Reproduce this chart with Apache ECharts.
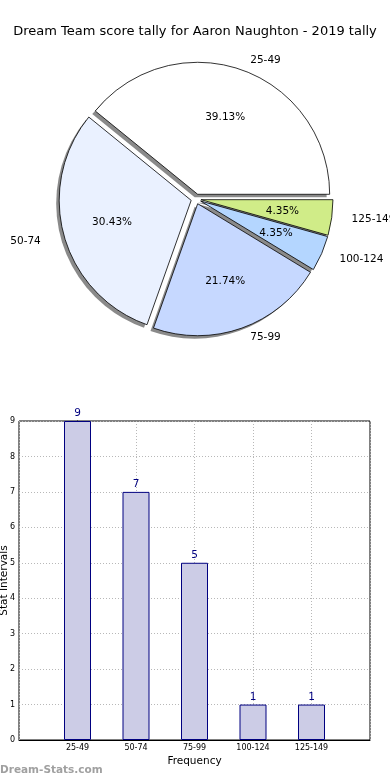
<!DOCTYPE html>
<html>
<head>
<meta charset="utf-8">
<script src="https://cdn.jsdelivr.net/npm/echarts@6/dist/echarts.min.js"></script>
<style>
html,body{margin:0;padding:0;background:#fff;}
#c{width:390px;height:780px;}
</style>
</head>
<body>
<div id="c"></div>
<script>
const titleText = 'Dream Team score tally for Aaron Naughton - 2019 tally';
const categories = ['25-49', '50-74', '75-99', '100-124', '125-149'];
const counts = [9, 7, 5, 1, 1];
const sliceColors = ['#ffffff', '#eaf1ff', '#c6d8ff', '#b4d6ff', '#d0ec88'];
const yTicks = [0, 1, 2, 3, 4, 5, 6, 7, 8, 9];

const FONT = 'DejaVu Sans';
const R = 132;
const cx = 196, cy = 199;
// label distance from the rim (styling only; mimics the reference's wider-than-tall pie)
const labelGap = [10, 19, 10, 14, 15];

const pieData = categories.map((c, i) => ({
  name: c, value: counts[i], selected: true,
  itemStyle: { color: sliceColors[i] },
  labelLine: { show: false, length: labelGap[i], length2: 0 }
}));
const plainData = categories.map((c, i) => ({
  name: c, value: counts[i], selected: true
}));

const pieCommon = {
  type: 'pie', startAngle: 0, clockwise: false,
  selectedMode: 'multiple', selectedOffset: 5,
  avoidLabelOverlap: false, silent: true,
  emphasis: { disabled: true },
  labelLine: { show: false }
};

const chart = echarts.init(document.getElementById('c'), null, { renderer: 'canvas' });
chart.setOption({
  animation: false,
  backgroundColor: '#fff',
  title: {
    text: titleText, left: 'center', top: 20,
    textStyle: { fontFamily: FONT, fontSize: 13, fontWeight: 'normal', color: '#000' }
  },
  grid: {
    left: 19, right: 20, top: 421, bottom: 40,
    outerBoundsMode: 'none', containLabel: false,
    show: true, borderColor: '#000', borderWidth: 1, backgroundColor: 'transparent'
  },
  xAxis: {
    type: 'value', min: -1, max: 5, interval: 1,
    name: 'Frequency', nameLocation: 'middle', nameGap: 16, nameMoveOverlap: false,
    nameTextStyle: { fontFamily: FONT, fontSize: 10.5, color: '#000' },
    axisLine: { show: true, lineStyle: { color: '#000' } },
    axisTick: { show: false },
    axisLabel: {
      fontFamily: FONT, fontSize: 8, color: '#000', margin: 4,
      formatter: v => categories[v] || ''
    },
    splitLine: { show: true, lineStyle: { color: '#b8b8b8', type: [1, 2], width: 1 } }
  },
  yAxis: {
    type: 'value', min: 0, max: 9, interval: 1,
    name: 'Stat Intervals', nameLocation: 'middle', nameGap: 9, nameMoveOverlap: false,
    nameTextStyle: { fontFamily: FONT, fontSize: 10.5, color: '#000' },
    axisLine: { show: true, lineStyle: { color: '#000' } },
    axisTick: { show: true, inside: true, length: 3, lineStyle: { color: '#000' } },
    axisLabel: {
      fontFamily: FONT, fontSize: 8, color: '#000', margin: 4,
      formatter: v => (yTicks.indexOf(v) >= 0 ? String(v) : '')
    },
    splitLine: { show: true, lineStyle: { color: '#b8b8b8', type: [1, 2], width: 1 } }
  },
  graphic: [{
    type: 'text', left: 0, top: 765,
    style: { text: 'Dream-Stats.com', fontFamily: FONT, fontSize: 10.5, fontWeight: 'bold', fill: '#a0a0a0' }
  }],
  series: [
    Object.assign({}, pieCommon, {
      center: [cx - 3, cy + 3], radius: [0, R],
      itemStyle: { color: '#8a8a8a', borderWidth: 0 },
      label: { show: false },
      data: plainData
    }),
    Object.assign({}, pieCommon, {
      center: [cx, cy], radius: [0, R],
      itemStyle: { borderColor: '#000', borderWidth: 0.8 },
      label: {
        show: true, position: 'outside', fontFamily: FONT, fontSize: 10.5, color: '#000',
        formatter: '{b}', overflow: 'none'
      },
      labelLine: { show: false, length: 10, length2: 0 },
      data: pieData
    }),
    Object.assign({}, pieCommon, {
      center: [cx, cy], radius: [0, R * 1.2], percentPrecision: 2,
      itemStyle: { color: 'transparent', borderWidth: 0 },
      label: {
        show: true, position: 'inside', fontFamily: FONT, fontSize: 10.5, color: '#000',
        formatter: p => p.percent.toFixed(2) + '%'
      },
      data: plainData
    }),
    {
      type: 'bar',
      barWidth: 27,
      itemStyle: { color: '#cccce6', borderColor: '#000080', borderWidth: 1 },
      label: {
        show: true, position: 'top', distance: 2,
        fontFamily: FONT, fontSize: 10.5, color: '#000080'
      },
      emphasis: { disabled: true },
      data: counts.map((v, i) => [i, v])
    }
  ]
});
</script>
</body>
</html>
